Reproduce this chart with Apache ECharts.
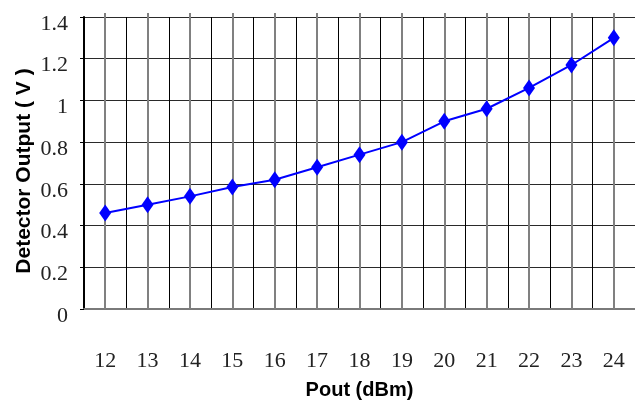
<!DOCTYPE html>
<html>
<head>
<meta charset="utf-8">
<script src="https://cdn.jsdelivr.net/npm/echarts@6/dist/echarts.min.js"></script>
<style>
  html, body { margin: 0; padding: 0; background: #fff; }
  #chart { width: 635px; height: 405px; }
</style>
</head>
<body>
<div id="chart"></div>
<script>
// Detector output voltage versus output power
const poutDbm = ['12', '13', '14', '15', '16', '17', '18', '19', '20', '21', '22', '23', '24'];
const detectorVolts = [0.46, 0.50, 0.54, 0.585, 0.62, 0.68, 0.74, 0.80, 0.90, 0.96, 1.06, 1.17, 1.30];
const voltTicks = { min: 0, max: 1.4, step: 0.2 };

const serif = "'Liberation Serif', 'Times New Roman', serif";
const sans = "'Liberation Sans', Arial, sans-serif";

const chart = echarts.init(document.getElementById('chart'), null, { renderer: 'canvas' });

chart.setOption({
  animation: false,
  backgroundColor: '#ffffff',
  grid: { left: 84, right: -1, top: 17, bottom: 92 },
  xAxis: {
    type: 'category',
    data: poutDbm,
    boundaryGap: true,
    name: 'Pout (dBm)',
    nameLocation: 'middle',
    nameGap: 71,
    nameMoveOverlap: false,
    nameTextStyle: { fontFamily: sans, fontWeight: 'bold', fontSize: 20, color: '#000' },
    axisLine: { show: true, lineStyle: { color: '#7a7a7a', width: 2 } },
    // ticks aligned with the categories run the full plot height as grey lines
    axisTick: {
      show: true,
      alignWithLabel: true,
      inside: true,
      length: 296,
      lineStyle: { color: '#808080', width: 2 }
    },
    axisLabel: { fontFamily: serif, fontSize: 22, color: '#222', margin: 41 },
    splitLine: { show: true, lineStyle: { color: '#000', width: 1 } }
  },
  yAxis: {
    type: 'value',
    min: voltTicks.min,
    max: voltTicks.max,
    interval: voltTicks.step,
    name: 'Detector Output ( V )',
    nameLocation: 'middle',
    nameGap: 49,
    nameMoveOverlap: false,
    nameTextStyle: {
      fontFamily: sans, fontWeight: 'bold', fontSize: 21, color: '#000',
      padding: [0, 16, 0, 0]
    },
    axisLine: { show: true, lineStyle: { color: '#000', width: 2 } },
    axisTick: { show: true, length: 4, lineStyle: { color: '#000', width: 1 } },
    axisLabel: {
      color: '#222', margin: 16,
      formatter: v => '{v|' + (Math.round(v * 10) / 10) + '}',
      rich: {
        v: { fontFamily: serif, fontSize: 22, color: '#222', padding: [14, 0, 0, 0] }
      }
    },
    splitLine: { show: true, lineStyle: { color: '#2a2a2a', width: 1 } }
  },
  series: [{
    type: 'line',
    data: detectorVolts,
    symbol: 'diamond',
    symbolSize: [12, 17],
    lineStyle: { color: '#0000ff', width: 2 },
    itemStyle: { color: '#0000ff' },
    z: 5
  }]
});
</script>
</body>
</html>
